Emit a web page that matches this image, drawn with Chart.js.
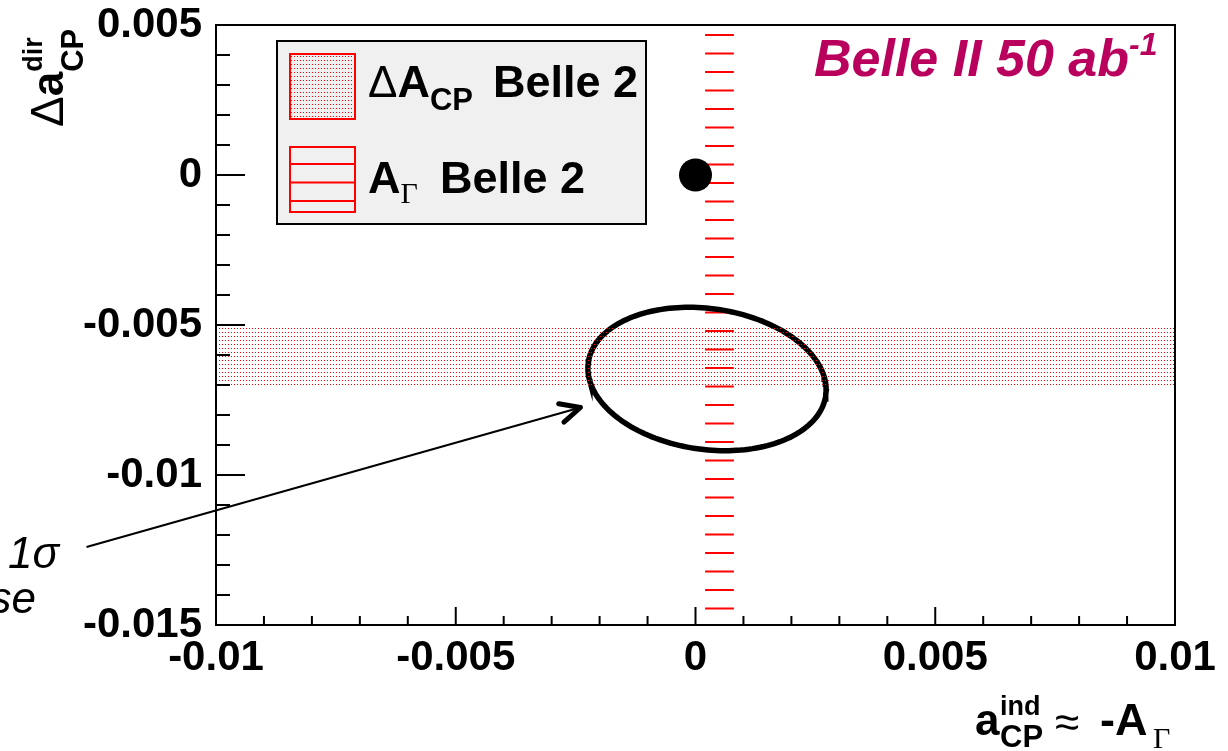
<!DOCTYPE html>
<html>
<head>
<meta charset="utf-8">
<script src="https://cdn.jsdelivr.net/npm/chart.js@4.4.1/dist/chart.umd.min.js"></script>
<style>
  html, body { margin: 0; padding: 0; background: #fff; }
  canvas { display: block; }
</style>
</head>
<body>
<canvas id="plot" width="1228" height="751"></canvas>
<script>
// axes
const xRange = [-0.01, 0.01];
const yRange = [-0.015, 0.005];
const xMajorTicks = [-0.01, -0.005, 0, 0.005, 0.01];
const xTickLabels = ['-0.01', '-0.005', '0', '0.005', '0.01'];
const yMajorTicks = [-0.015, -0.01, -0.005, 0, 0.005];
const yTickLabels = ['-0.015', '-0.01', '-0.005', '0', '0.005'];
const minorStep = 0.001;

// Belle II 50 ab^-1 projections
const dAcpBand = [-0.007, -0.005];      // ΔA_CP allowed range (y)
const aGammaBand = [0.0002, 0.0008];    // A_Γ allowed range (x)
const smPoint = [0, 0];
const ellipseCenter = [0.00024, -0.0068];
const ellipseRadii = [0.00262, 0.00224];
const ellipseTilt = -37.8;              // degrees
const arrowFrom = [-0.0127, -0.0124];
const arrowTo = [-0.0024, -0.00775];

const RED = '#ff0000';
const TITLE_COLOR = '#b9005c';
const SANS = 'Liberation Sans';

function ellipsePoints() {
  const pts = [];
  const th = ellipseTilt * Math.PI / 180;
  for (let i = 0; i <= 180; i++) {
    const t = i / 180 * 2 * Math.PI;
    const u = ellipseRadii[0] * Math.cos(t), v = ellipseRadii[1] * Math.sin(t);
    pts.push({
      x: ellipseCenter[0] + u * Math.cos(th) - v * Math.sin(th),
      y: ellipseCenter[1] + u * Math.sin(th) + v * Math.cos(th)
    });
  }
  return pts;
}

function bandEdge(y) {
  return [{ x: xRange[0], y }, { x: xRange[1], y }];
}

function buildTicks(range) {
  const out = [];
  const n = Math.round((range[1] - range[0]) / minorStep);
  for (let i = 0; i <= n; i++) out.push({ value: +(range[0] + i * minorStep).toFixed(6) });
  return out;
}

function tickLabel(v, majors, labels) {
  const i = majors.findIndex(m => Math.abs(m - v) < 1e-9);
  return i < 0 ? '' : labels[i];
}

function dotPattern(ctx) {
  const c = document.createElement('canvas');
  c.width = 3; c.height = 4;
  const g = c.getContext('2d');
  g.fillStyle = RED;
  g.fillRect(0, 0, 1, 1);
  return ctx.createPattern(c, 'repeat');
}

function hatch(ctx, x0, y0, x1, y1, first) {
  ctx.save();
  ctx.strokeStyle = RED;
  ctx.lineWidth = 2;
  ctx.beginPath();
  for (let y = first; y < y1; y += 18.5) {
    ctx.moveTo(x0, y);
    ctx.lineTo(x1, y);
  }
  ctx.stroke();
  ctx.restore();
}

// draw a row of text pieces, each {t, font, dy}
function runs(ctx, x, y, parts) {
  for (const p of parts) {
    ctx.font = p.font;
    ctx.fillText(p.t, x, y + (p.dy || 0));
    x += ctx.measureText(p.t).width;
  }
  return x;
}

const canvas = document.getElementById('plot');
const dots = dotPattern(canvas.getContext('2d'));

const rootStyle = {
  id: 'rootStyle',
  beforeDatasetsDraw(chart) {
    const { ctx, chartArea: a, scales: { x } } = chart;
    hatch(ctx, x.getPixelForValue(aGammaBand[0]), a.top, x.getPixelForValue(aGammaBand[1]), a.bottom, a.top + 10);
  },
  afterDatasetsDraw(chart) {
    const { ctx, chartArea: a, scales: { x, y } } = chart;
    ctx.save();
    ctx.strokeStyle = '#000';
    ctx.lineWidth = 2;
    ctx.strokeRect(a.left, a.top, a.right - a.left, a.bottom - a.top);
    ctx.beginPath();
    y.ticks.forEach(t => {
      const py = y.getPixelForValue(t.value);
      const len = t.label ? 29 : 14;
      ctx.moveTo(a.left, py); ctx.lineTo(a.left + len, py);
    });
    x.ticks.forEach(t => {
      const px = x.getPixelForValue(t.value);
      const len = t.label ? 18 : 9;
      ctx.moveTo(px, a.bottom); ctx.lineTo(px, a.bottom - len);
    });
    ctx.stroke();
    ctx.restore();
  },
  afterDraw(chart) {
    const { ctx, scales: { x, y } } = chart;
    ctx.save();
    ctx.textAlign = 'left';
    ctx.textBaseline = 'alphabetic';

    // legend box
    ctx.fillStyle = '#f0f0f0';
    ctx.fillRect(277, 41, 369, 183);
    ctx.strokeStyle = '#000';
    ctx.lineWidth = 2;
    ctx.strokeRect(277, 41, 369, 183);
    ctx.fillStyle = dots;
    ctx.fillRect(290, 54, 65, 65);
    ctx.strokeStyle = RED;
    ctx.strokeRect(290, 54, 65, 65);
    ctx.strokeRect(290, 147, 65, 65);
    hatch(ctx, 290, 147, 355, 212, 164);

    ctx.fillStyle = '#000';
    runs(ctx, 368, 97, [
      { t: 'Δ', font: `44px ${SANS}` },
      { t: 'A', font: `bold 45px ${SANS}` },
      { t: 'CP', font: `bold 31px ${SANS}`, dy: 13 }
    ]);
    ctx.font = `bold 45px ${SANS}`;
    ctx.fillText('Belle 2', 493, 97);
    runs(ctx, 368, 193, [
      { t: 'A', font: `bold 45px ${SANS}` },
      { t: 'Γ', font: '30px Liberation Serif', dy: 10 }
    ]);
    ctx.font = `bold 45px ${SANS}`;
    ctx.fillText('Belle 2', 440, 193);

    // luminosity label
    ctx.fillStyle = TITLE_COLOR;
    runs(ctx, 814, 76, [
      { t: 'Belle II 50 ab', font: `italic bold 52px ${SANS}` },
      { t: '-1', font: `italic bold 32px ${SANS}`, dy: -21 }
    ]);

    // x axis title
    ctx.fillStyle = '#000';
    runs(ctx, 975, 735, [{ t: 'a', font: `bold 44px ${SANS}` }]);
    runs(ctx, 1000, 715, [{ t: 'ind', font: `bold 27px ${SANS}` }]);
    runs(ctx, 1000, 747, [{ t: 'CP', font: `bold 31px ${SANS}` }]);
    runs(ctx, 1055, 737, [{ t: '≈', font: `44px ${SANS}` }]);
    runs(ctx, 1100, 735, [{ t: '-A', font: `bold 45px ${SANS}` }]);
    runs(ctx, 1153, 748, [{ t: 'Γ', font: '30px Liberation Serif' }]);

    // y axis title (reads upwards)
    ctx.save();
    ctx.translate(63, 127);
    ctx.rotate(-Math.PI / 2);
    const cx = runs(ctx, 0, 0, [
      { t: 'Δ', font: `46px ${SANS}` },
      { t: 'a', font: `bold 44px ${SANS}` }
    ]);
    runs(ctx, cx, -21, [{ t: 'dir', font: `bold 27px ${SANS}` }]);
    runs(ctx, cx, 20, [{ t: 'CP', font: `bold 31px ${SANS}` }]);
    ctx.restore();

    // arrow to the 1σ contour
    const x0 = x.getPixelForValue(arrowFrom[0]), y0 = y.getPixelForValue(arrowFrom[1]);
    const x1 = x.getPixelForValue(arrowTo[0]), y1 = y.getPixelForValue(arrowTo[1]);
    ctx.strokeStyle = '#000';
    ctx.lineWidth = 2;
    ctx.beginPath();
    ctx.moveTo(x0, y0); ctx.lineTo(x1, y1);
    ctx.stroke();
    const ang = Math.atan2(y0 - y1, x0 - x1);
    ctx.lineWidth = 5;
    ctx.lineCap = 'round';
    ctx.lineJoin = 'round';
    ctx.beginPath();
    ctx.moveTo(x1 + 22 * Math.cos(ang + 0.45), y1 + 22 * Math.sin(ang + 0.45));
    ctx.lineTo(x1, y1);
    ctx.lineTo(x1 + 22 * Math.cos(ang - 0.45), y1 + 22 * Math.sin(ang - 0.45));
    ctx.stroke();

    ctx.fillStyle = '#000';
    ctx.font = `italic 44px ${SANS}`;
    ctx.fillText('1σ', 8, 568);
    ctx.textAlign = 'right';
    ctx.fillText('ellipse', 36, 613);
    ctx.restore();
  }
};

const tickFont = { family: SANS, weight: 'bold', size: 42 };

new Chart(canvas, {
  type: 'line',
  data: {
    datasets: [
      { label: 'ΔA_CP Belle 2', data: bandEdge(dAcpBand[1]), fill: '+1', backgroundColor: dots,
        borderColor: 'transparent', borderWidth: 0, pointRadius: 0 },
      { label: 'ΔA_CP lower', data: bandEdge(dAcpBand[0]), fill: false,
        borderColor: 'transparent', borderWidth: 0, pointRadius: 0 },
      { label: '1σ ellipse', data: ellipsePoints(), fill: false, borderColor: '#000', borderWidth: 5.5,
        pointRadius: 0, tension: 0 },
      { label: 'SM', data: [{ x: smPoint[0], y: smPoint[1] }], showLine: false, pointRadius: 16.5,
        pointBackgroundColor: '#000', pointBorderWidth: 0 }
    ]
  },
  options: {
    responsive: false,
    animation: false,
    events: [],
    devicePixelRatio: 1,
    layout: { autoPadding: false, padding: { left: 0, top: 25, right: 53, bottom: 0 } },
    plugins: { legend: { display: false }, tooltip: { enabled: false } },
    scales: {
      x: {
        type: 'linear', min: xRange[0], max: xRange[1],
        afterBuildTicks: s => { s.ticks = buildTicks(xRange); },
        afterFit: s => { s.height = 126; s.paddingLeft = 0; s.paddingRight = 0; },
        grid: { display: false, drawTicks: false },
        border: { display: false },
        ticks: { autoSkip: false, maxRotation: 0, padding: 8, color: '#000', font: tickFont,
          callback: v => tickLabel(v, xMajorTicks, xTickLabels) }
      },
      y: {
        type: 'linear', min: yRange[0], max: yRange[1],
        afterBuildTicks: s => { s.ticks = buildTicks(yRange); },
        afterFit: s => { s.width = 216; s.paddingTop = 0; s.paddingBottom = 0; },
        grid: { display: false, drawTicks: false },
        border: { display: false },
        ticks: { autoSkip: false, padding: 14, color: '#000', font: tickFont,
          callback: v => tickLabel(v, yMajorTicks, yTickLabels) }
      }
    }
  },
  plugins: [rootStyle]
});
</script>
</body>
</html>
